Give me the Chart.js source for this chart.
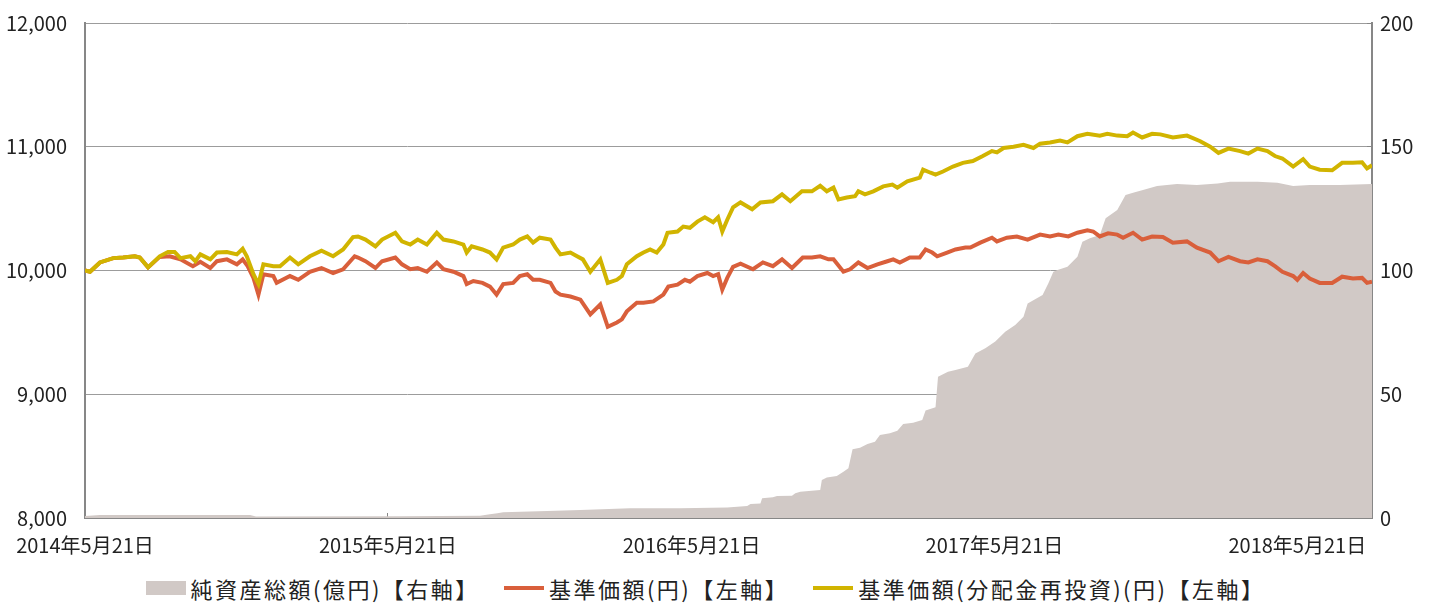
<!DOCTYPE html>
<html lang="ja">
<head>
<meta charset="utf-8">
<title>基準価額・純資産の推移</title>
<script src="https://cdn.jsdelivr.net/npm/chart.js@4.4.1/dist/chart.umd.min.js"></script>
<style>
  html, body { margin: 0; padding: 0; background: #fff; }
  #wrap { width: 1437px; height: 603px; position: relative; font-family: "Noto Sans CJK JP", "Noto Sans", sans-serif; }
  #chartBox { position: absolute; left: 0; top: 0; width: 1437px; height: 565px; }
  #legend {
    position: absolute; left: 0; top: 575px; width: 1437px; height: 26px;
    display: flex; justify-content: center; align-items: center;
    padding-right: 26px; box-sizing: border-box;
    font-size: 22px; letter-spacing: 2.5px; color: #222; line-height: 26px;
  }
  .item { display: flex; align-items: center; margin: 0 12px; white-space: nowrap; }
  .swatch { width: 40px; margin-right: 5px; }
</style>
</head>
<body>
<div id="wrap">
  <div id="chartBox"><canvas id="navChart"></canvas></div>
  <div id="legend"></div>
</div>
<script>
// days counted from 2014/5/21
const tickDays = [0, 365, 731, 1096, 1461];
const tickLabels = ['2014年5月21日', '2015年5月21日', '2016年5月21日', '2017年5月21日', '2018年5月21日'];

// 基準価額(円)
const navDays = [
  0, 6, 18, 34, 46, 60, 66, 76, 90, 102,
  115, 130, 139, 151, 159, 171, 183, 190, 196, 203,
  209, 215, 227, 231, 247, 257, 271, 285, 299, 311,
  325, 329, 338, 350, 358, 374, 382, 392, 401, 412,
  424, 432, 444, 456, 460, 468, 479, 488, 496, 504,
  516, 524, 533, 540, 548, 561, 567, 573, 585, 597,
  609, 621, 630, 641, 647, 653, 665, 673, 685, 697,
  703, 714, 723, 729, 738, 750, 757, 763, 768, 774,
  781, 790, 805, 817, 829, 840, 852, 865, 876, 886,
  896, 902, 914, 922, 932, 943, 955, 967, 974, 982,
  994, 1006, 1013, 1021, 1027, 1039, 1049, 1061, 1067, 1079,
  1093, 1099, 1111, 1123, 1136, 1151, 1163, 1173, 1185, 1196,
  1208, 1215, 1223, 1233, 1244, 1251, 1263, 1274, 1286, 1299,
  1311, 1328, 1340, 1356, 1366, 1378, 1392, 1402, 1413, 1425,
  1434, 1443, 1456, 1461, 1468, 1476, 1488, 1503, 1515, 1528,
  1539, 1545, 1551
];
const navValues = [
  10000, 9990, 10065, 10100, 10105, 10115, 10105, 10025, 10110, 10115,
  10090, 10035, 10070, 10020, 10075, 10090, 10050, 10090, 10035, 9940,
  9805, 9970, 9955, 9900, 9955, 9925, 9990, 10020, 9980, 10010,
  10115, 10105, 10075, 10020, 10075, 10105, 10050, 10010, 10020, 9990,
  10065, 10010, 9990, 9955, 9890, 9915, 9900, 9870, 9805, 9890,
  9900, 9955, 9970, 9925, 9925, 9900, 9830, 9805, 9790, 9765,
  9645, 9725, 9545, 9580, 9605, 9670, 9740, 9740, 9750, 9805,
  9870, 9885, 9925, 9910, 9955, 9980, 9955, 9970, 9845, 9940,
  10030, 10055, 10010, 10065, 10035, 10090, 10020, 10105, 10105, 10115,
  10090, 10090, 9990, 10010, 10065, 10020, 10050, 10075, 10090, 10065,
  10105, 10105, 10170, 10145, 10115, 10145, 10170, 10185, 10185, 10225,
  10265, 10235, 10265, 10275, 10250, 10290, 10275, 10290, 10275, 10305,
  10325, 10315, 10275, 10300, 10290, 10265, 10305, 10250, 10275, 10270,
  10225, 10235, 10185, 10145, 10075, 10110, 10075, 10065, 10090, 10075,
  10035, 9990, 9955, 9925, 9980, 9935, 9900, 9900, 9950, 9935,
  9940, 9900, 9910
];

// 基準価額(分配金再投資)(円)
const reinvDays = [
  0, 6, 18, 34, 46, 60, 66, 76, 90, 100,
  108, 115, 127, 133, 139, 151, 159, 171, 183, 190,
  195, 203, 209, 215, 227, 235, 247, 257, 271, 285,
  299, 311, 323, 329, 338, 350, 358, 374, 382, 392,
  401, 412, 424, 432, 444, 456, 460, 466, 479, 488,
  496, 504, 516, 524, 533, 540, 548, 561, 567, 573,
  585, 593, 600, 609, 621, 630, 641, 647, 653, 665,
  673, 681, 689, 697, 702, 714, 721, 729, 738, 747,
  757, 763, 768, 774, 781, 790, 804, 814, 829, 840,
  850, 864, 876, 886, 894, 902, 908, 918, 928, 932,
  940, 950, 962, 973, 979, 991, 1006, 1010, 1019, 1025,
  1034, 1046, 1058, 1070, 1082, 1093, 1099, 1107, 1119, 1131,
  1143, 1151, 1163, 1175, 1184, 1196, 1208, 1223, 1232, 1244,
  1256, 1263, 1274, 1286, 1296, 1311, 1328, 1344, 1356, 1366,
  1378, 1392, 1402, 1413, 1425, 1434, 1443, 1456, 1468, 1476,
  1488, 1503, 1515, 1528, 1539, 1545, 1551
];
const reinvValues = [
  10000, 9990, 10065, 10100, 10105, 10115, 10105, 10025, 10115, 10150,
  10150, 10100, 10115, 10075, 10130, 10090, 10145, 10150, 10130, 10175,
  10115, 9970, 9890, 10050, 10035, 10035, 10105, 10050, 10115, 10160,
  10115, 10170, 10270, 10275, 10250, 10195, 10250, 10305, 10235, 10210,
  10250, 10210, 10305, 10250, 10235, 10210, 10145, 10195, 10170, 10145,
  10090, 10185, 10210, 10250, 10275, 10225, 10265, 10250, 10185, 10130,
  10145, 10115, 10090, 9990, 10090, 9900, 9925, 9955, 10050, 10115,
  10145, 10170, 10145, 10210, 10305, 10315, 10355, 10345, 10395, 10430,
  10390, 10430, 10315, 10410, 10510, 10550, 10495, 10550, 10560, 10615,
  10560, 10640, 10640, 10685, 10640, 10670, 10575, 10590, 10600, 10640,
  10615, 10640, 10680, 10695, 10670, 10720, 10750, 10815, 10790, 10775,
  10800, 10840, 10870, 10885, 10925, 10965, 10955, 10990, 11000, 11015,
  10990, 11025, 11035, 11050, 11035, 11085, 11105, 11090, 11105, 11090,
  11085, 11115, 11075, 11105, 11100, 11075, 11090, 11045, 11000, 10950,
  10985, 10965, 10945, 10985, 10965, 10925, 10905, 10840, 10900, 10840,
  10815, 10810, 10870, 10870, 10875, 10825, 10850
];

// 純資産総額(億円)
const assetDays = [
  0, 18, 199, 206, 380, 476, 488, 497, 504, 557,
  597, 657, 717, 774, 798, 802, 814, 816, 829, 834,
  852, 856, 862, 886, 888, 894, 906, 914, 920, 925,
  934, 943, 952, 958, 970, 979, 986, 998, 1009, 1013,
  1025, 1028, 1040, 1049, 1064, 1073, 1085, 1097, 1109, 1121,
  1131, 1136, 1154, 1161, 1167, 1172, 1184, 1196, 1202, 1211,
  1223, 1230, 1244, 1254, 1263, 1275, 1292, 1316, 1340, 1365,
  1380, 1413, 1437, 1456, 1476, 1512, 1551
];
const assetValues = [
  0.8, 1.2, 1.2, 0.6, 0.7, 0.9, 1.5, 1.9, 2.3, 2.8,
  3.2, 3.9, 3.9, 4.2, 4.8, 5.7, 5.9, 8.0, 8.4, 8.9,
  9.0, 10.0, 10.6, 11.3, 15.4, 16.4, 17.0, 18.7, 20.1, 27.8,
  28.4, 29.9, 30.8, 33.5, 34.2, 35.3, 38.0, 38.5, 39.6, 43.4,
  44.7, 57.1, 59.1, 59.8, 61.1, 66.5, 68.6, 71.3, 75.3, 78.0,
  81.3, 86.7, 90.1, 94.8, 99.5, 100.2, 101.5, 105.6, 111.6, 113.0,
  114.3, 121.1, 124.4, 130.5, 131.4, 132.5, 134.1, 134.9, 134.5, 135.2,
  135.9, 135.9, 135.5, 134.1, 134.5, 134.5, 134.9
];

const lastDay = 1551;

const toPoints = (days, values) => days.map((d, i) => ({ x: d, y: values[i] }));

// keep the plot box fixed: drop the extra room chart.js keeps for edge labels
const fixAxis = (axis, size) => {
  if (axis.isHorizontal()) axis.height = size; else axis.width = size;
  axis.paddingLeft = 0;
  axis.paddingRight = 0;
  axis.paddingTop = 0;
  axis.paddingBottom = 0;
};

Chart.defaults.font.family = '"Noto Sans CJK JP", "Noto Sans", sans-serif';
Chart.defaults.color = '#222';

const axisColor = '#878787';
const gridColor = '#9c9c9c';

const ctx = document.getElementById('navChart').getContext('2d');
const chart = new Chart(ctx, {
  type: 'line',
  data: {
    datasets: [
      {
        label: '純資産総額(億円)【右軸】',
        data: toPoints(assetDays, assetValues),
        yAxisID: 'y1',
        backgroundColor: '#d1c9c6',
        borderWidth: 0,
        fill: 'origin',
        pointRadius: 0,
        order: 3
      },
      {
        label: '基準価額(円)【左軸】',
        data: toPoints(navDays, navValues),
        yAxisID: 'y',
        borderColor: '#d95f3b',
        backgroundColor: '#d95f3b',
        borderWidth: 4,
        pointRadius: 0,
        fill: false,
        order: 2
      },
      {
        label: '基準価額(分配金再投資)(円)【左軸】',
        data: toPoints(reinvDays, reinvValues),
        yAxisID: 'y',
        borderColor: '#d1b400',
        backgroundColor: '#d1b400',
        borderWidth: 4,
        pointRadius: 0,
        fill: false,
        order: 1
      }
    ]
  },
  options: {
    responsive: true,
    maintainAspectRatio: false,
    animation: false,
    layout: { autoPadding: false, padding: { top: 23, left: 0, right: 0, bottom: 0 } },
    plugins: {
      tooltip: { enabled: false },
      legend: { display: false }
    },
    scales: {
      x: {
        type: 'linear',
        min: 0,
        max: lastDay,
        afterBuildTicks: (axis) => { axis.ticks = tickDays.map(v => ({ value: v })); },
        afterFit: (axis) => fixAxis(axis, 47),
        ticks: {
          autoSkip: false,
          maxRotation: 0,
          padding: 20,
          font: { size: 20 },
          callback: (value) => tickLabels[tickDays.indexOf(value)]
        },
        grid: { drawOnChartArea: false, drawTicks: true, tickLength: -5, color: axisColor, lineWidth: 1 },
        border: { color: axisColor, width: 2 }
      },
      y: {
        position: 'left',
        min: 8000,
        max: 12000,
        afterFit: (axis) => fixAxis(axis, 85),
        ticks: {
          stepSize: 1000,
          padding: 18,
          font: { size: 20 },
          callback: (value) => value.toLocaleString('en-US')
        },
        grid: { color: gridColor, lineWidth: 1, drawTicks: false },
        border: { color: axisColor, width: 2 }
      },
      y1: {
        position: 'right',
        min: 0,
        max: 200,
        afterFit: (axis) => fixAxis(axis, 65),
        ticks: { stepSize: 50, padding: 13, font: { size: 20 } },
        grid: { drawOnChartArea: false, drawTicks: true, tickLength: -5, color: axisColor, lineWidth: 1 },
        border: { color: axisColor, width: 2 }
      }
    }
  }
});

// legend (html)
const legendEl = document.getElementById('legend');
chart.data.datasets.forEach((ds, i) => {
  const item = document.createElement('div');
  item.className = 'item';
  const sw = document.createElement('span');
  sw.className = 'swatch';
  if (i === 0) {
    sw.style.height = '14px';
    sw.style.background = ds.backgroundColor;
  } else {
    sw.style.height = '4px';
    sw.style.background = ds.borderColor;
  }
  const txt = document.createElement('span');
  txt.textContent = ds.label;
  item.appendChild(sw);
  item.appendChild(txt);
  legendEl.appendChild(item);
});
</script>
</body>
</html>
